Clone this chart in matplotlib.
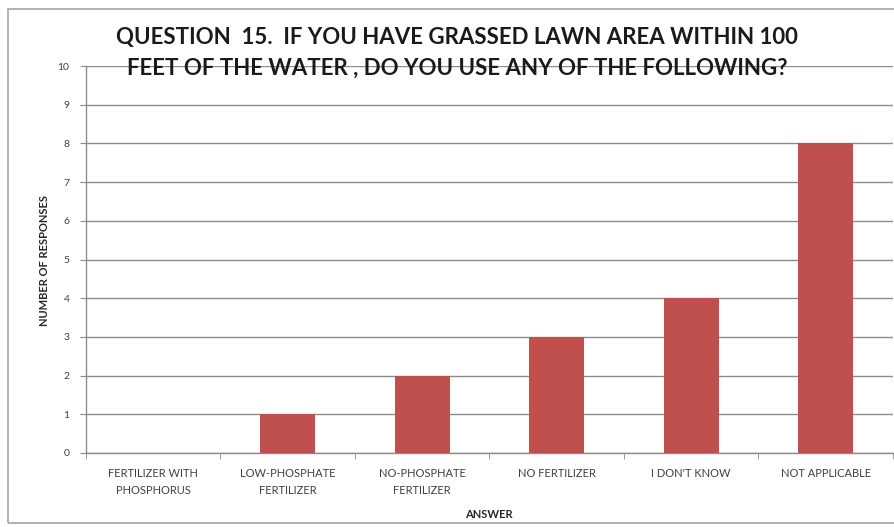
import matplotlib
matplotlib.use("Agg")
import matplotlib.pyplot as plt
from matplotlib.patches import Rectangle

categories = ["FERTILIZER WITH\nPHOSPHORUS", "LOW-PHOSPHATE\nFERTILIZER", "NO-PHOSPHATE\nFERTILIZER",
              "NO FERTILIZER", "I DON'T KNOW", "NOT APPLICABLE"]
responses = [0, 1, 2, 3, 4, 8]
y_ticks = list(range(0, 11))

W, H = 895, 527
fig = plt.figure(figsize=(W / 100, H / 100), dpi=100)
fig.patch.set_facecolor("white")

# outer chart frame
fig.patches.append(Rectangle((8 / W, 1 - 523 / H), 1.0, (523 - 9) / H, transform=fig.transFigure,
                             fill=False, edgecolor="#a6a6a6", linewidth=1.2, zorder=0))

left, right, top, bottom = 86, 893, 66, 453
ax = fig.add_axes([left / W, 1 - bottom / H, (right - left) / W, (bottom - top) / H])

x = list(range(len(categories)))
ax.bar(x, responses, width=0.41, color="#C0504D", zorder=3)
ax.set_xlim(-0.5, len(categories) - 0.5)
ax.set_ylim(0, 10)
ax.set_yticks(y_ticks)
ax.set_yticklabels([str(v) for v in y_ticks], fontsize=7.5, color="#404040", family="Lato")
ax.yaxis.grid(True, color="#8c8c8c", linewidth=1.0, zorder=0)
ax.set_axisbelow(True)

ax.set_xticks(x)
ax.set_xticklabels(categories, fontsize=8, color="#404040", family="Lato", linespacing=1.6)
ax.tick_params(axis="x", which="major", length=0, pad=11)
ax.set_xticks([i + 0.5 for i in range(-1, len(categories))], minor=True)
ax.tick_params(axis="x", which="minor", length=4, color="#8c8c8c", direction="out")
ax.tick_params(axis="y", length=4, color="#8c8c8c", pad=8)

for s in ["top", "right"]:
    ax.spines[s].set_visible(False)
for s in ["left", "bottom"]:
    ax.spines[s].set_color("#8c8c8c")
    ax.spines[s].set_linewidth(1.0)

fig.text(45 / W, 1 - 260 / H, "NUMBER OF RESPONSES", rotation=90, ha="center", va="center",
         fontsize=8, fontweight="bold", color="#262626", family="Lato")
fig.text(489 / W, 1 - 514 / H, "ANSWER", ha="center", va="center",
         fontsize=8, fontweight="bold", color="#262626", family="Lato")

fig.text(457 / W, 1 - 53 / H,
         "QUESTION  15.  IF YOU HAVE GRASSED LAWN AREA WITHIN 100\nFEET OF THE WATER , DO YOU USE ANY OF THE FOLLOWING?",
         ha="center", va="center", fontsize=16, fontweight="bold", color="#1a1a1a",
         family="Lato", linespacing=1.6, zorder=5)

fig.savefig("out.png", dpi=100, facecolor="white")
